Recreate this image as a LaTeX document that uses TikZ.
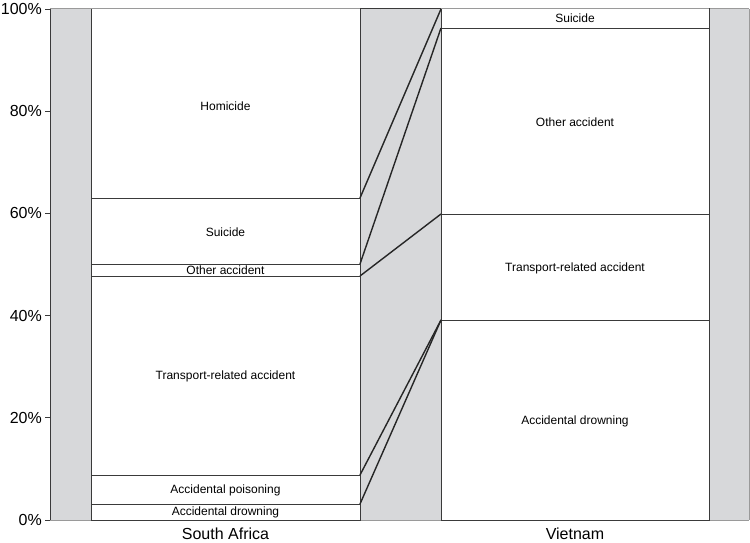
\documentclass[tikz,border=0pt]{standalone}
\usepackage{fontspec}
\setmainfont{Liberation Sans}
\definecolor{panel}{HTML}{D7D8DA}
\definecolor{rim}{HTML}{9A9A9A}
\definecolor{edge}{HTML}{3A3A3A}
\tikzset{
  barbox/.style={draw=edge, line width=1pt, fill=white},
  sep/.style={draw=edge, line width=0.9pt},
  link/.style={draw=black!85, line width=1.4pt},
  cat/.style={font=\fontsize{12}{12}\selectfont, inner sep=0pt},
  axlab/.style={font=\fontsize{16}{16}\selectfont, inner sep=0pt},
}
\begin{document}
\begin{tikzpicture}[x=1pt,y=-1pt]
\useasboundingbox (0,0) rectangle (750,543);
% panel
\fill[panel] (50,9) rectangle (749,520);
\draw[rim, line width=1pt] (50,9) -- (749,9);
\draw[rim, line width=0.8pt] (749,9) -- (749,520);
\draw[rim, line width=1pt] (50,520) -- (749,520);
\draw[edge, line width=1pt] (50,9) -- (50,520);
% ticks and labels
\foreach \p/\y in {0/520,20/417.8,40/315.6,60/213.4,80/111.2,100/9}{
  \draw[edge, line width=0.8pt] (45,\y) -- (50,\y);
  \node[axlab, anchor=east] at (42,\y) {\p\%};
}
% bars
\draw[barbox] (91,9) rectangle (360,520);
\draw[barbox] (441,9) rectangle (709,520);
\draw[rim, line width=1pt] (91,9) -- (360,9);
\draw[rim, line width=1pt] (441,9) -- (709,9);
\draw[edge, line width=1pt] (360,9) -- (441,9);
% South Africa boundaries
\coordinate (saT) at (360,9);
\coordinate (sa1) at (360,198);
\coordinate (sa2) at (360,264);
\coordinate (sa3) at (360,276);
\coordinate (sa4) at (360,475);
\coordinate (sa5) at (360,504);
\draw[sep] (91,198) -- (sa1);
\draw[sep] (91,264) -- (sa2);
\draw[sep] (91,276) -- (sa3);
\draw[sep] (91,475) -- (sa4);
\draw[sep] (91,504) -- (sa5);
% Vietnam boundaries
\coordinate (vnT) at (441,9);
\coordinate (vn1) at (441,28);
\coordinate (vn2) at (441,214);
\coordinate (vn3) at (441,320);
\draw[sep] (vn1) -- (709,28);
\draw[sep] (vn2) -- (709,214);
\draw[sep] (vn3) -- (709,320);
% links
\draw[link] (sa1) -- (vnT);
\draw[link] (sa2) -- (vn1);
\draw[link] (sa3) -- (vn2);
\draw[link] (sa4) -- (vn3);
\draw[link] (sa5) -- (vn3);
% labels
\node[cat] (hom) at (225.5,106) {Homicide};
\node[cat] (sui) at (225.5,232) {Suicide};
\node[cat] (oth) at (225.5,270) {Other accident};
\node[cat] (tra) at (225.5,376) {Transport-related accident};
\node[cat] (poi) at (225.5,490) {Accidental poisoning};
\node[cat] (dro) at (225.5,512) {Accidental drowning};
\node[cat] (vsui) at (575,18.5) {Suicide};
\node[cat] (voth) at (575,122) {Other accident};
\node[cat] (vtra) at (575,268) {Transport-related accident};
\node[cat] (vdro) at (575,421) {Accidental drowning};
\node[axlab] (sa) at (225.5,534) {South Africa};
\node[axlab] (vn) at (575,534) {Vietnam};
\end{tikzpicture}
\end{document}
